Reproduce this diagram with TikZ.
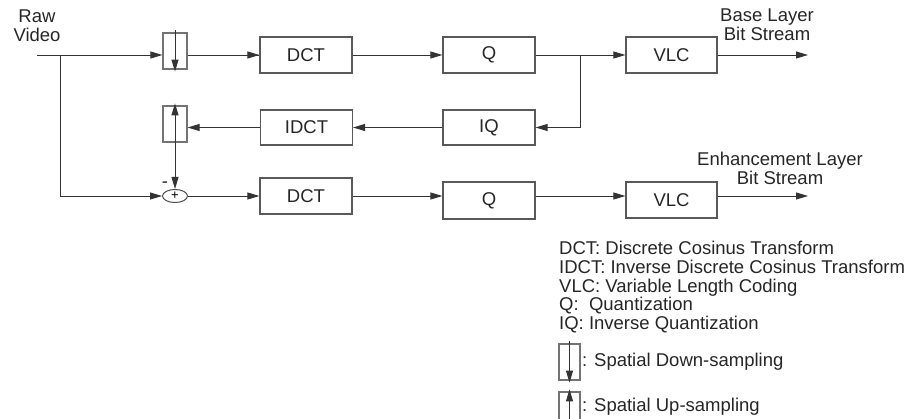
\documentclass[tikz,border=0pt]{standalone}
\usepackage{fontspec}
\setmainfont{Liberation Sans}
\usetikzlibrary{arrows.meta,shapes.geometric}
\begin{document}
\begin{tikzpicture}[x=1pt,y=-1pt,
  font=\fontsize{18.5}{18.8}\selectfont,
  box/.style={draw=black!65,line width=1.2pt,minimum width=92pt,minimum height=36pt,inner sep=0pt,text=black!85},
  sampbox/.style={draw=black!55,line width=1.2pt,minimum width=24pt,minimum height=36pt,inner sep=0pt},
  tip/.style={-{Triangle[length=12pt,width=7pt]}},
  wire/.style={draw=black!80,line width=0.9pt},
  conn/.style={wire,tip},
  lbl/.style={align=center,text=black!85,inner sep=0pt},
  leg/.style={anchor=base west,text=black!85,inner sep=0pt}]
\useasboundingbox (0,0) rectangle (922,419);

% first row
\node[sampbox] (ds) at (175,51) {};
\node[box] (dct1) at (306,55) {DCT};
\node[box] (q1) at (489,55) {Q};
\node[box,minimum width=91pt] (vlc1) at (671.5,55) {VLC};
% second row
\node[sampbox] (us) at (175,124) {};
\node[box,minimum height=35pt] (idct) at (306.5,127.5) {IDCT};
\node[box,minimum height=35pt] (iq) at (489,127.5) {IQ};
% third row
\node[ellipse,draw=black!70,line width=1pt,minimum width=25pt,minimum height=13pt,inner sep=0pt] (add) at (175,196) {};
\node[inner sep=0pt,font=\fontsize{13}{13}\selectfont] (plus) at (add.center) {+};
\node[box] (dct2) at (306,196) {DCT};
\node[box,minimum height=37pt] (q2) at (489,200.5) {Q};
\node[box,minimum width=91pt] (vlc2) at (671.5,200) {VLC};

% labels
\node[lbl] (raw) at (37,26) {Raw\\Video};
\node[lbl] (bl) at (767,25) {Base Layer\\Bit Stream};
\node[lbl] (el) at (780,168.5) {Enhancement Layer\\Bit Stream};
\node[inner sep=0pt,text=black!85] (minus) at (165,185) {-};

% coordinates
\coordinate (in) at (37,55);
\coordinate (br1) at (60,55);
\coordinate (br2) at (580,55);
\coordinate (out1) at (808,55);
\coordinate (out2) at (808,196);

% connectors first row
\draw[conn] (in) -- (in -| ds.west);
\draw[wire] (br1 -| ds.east) -- (br1 -| dct1.west);
\draw[conn] (br1 -| ds.east) -- (dct1.west);
\draw[conn] (dct1.east) -- (q1.west);
\draw[conn] (q1.east) -- (vlc1.west);
\draw[conn] (vlc1.east) -- (out1);
% inside downsampler
\draw[wire,tip] ([yshift=2pt]ds.north) -- ([yshift=-2pt]ds.south);
% feedback
\draw[conn] (br2) |- (iq.east);
\draw[conn] (iq.west) -- (idct.east);
\draw[conn] (idct.west) -- (idct.west -| us.east);
% upsampler and subtraction
\draw[wire,{Triangle[length=12pt,width=7pt]}-{Triangle[length=12pt,width=7pt]}] ([yshift=2pt]us.north) -- (add.north);
% branch to adder
\draw[conn] (br1) |- (add.west);
\draw[conn] (add.east) -- (dct2.west);
\draw[conn] (dct2.east) -- (dct2.east -| q2.west);
\draw[conn] (dct2.east -| q2.east) -- (dct2.east -| vlc2.west);
\draw[conn] (dct2.east -| vlc2.east) -- (out2);

% legend
\node[leg] (l1) at (559,254.5) {DCT: Discrete Cosinus Transform};
\node[leg] (l2) at (559,273.5) {IDCT: Inverse Discrete Cosinus Transform};
\node[leg] (l3) at (559,292.5) {VLC: Variable Length Coding};
\node[leg] (l4) at (559,311) {Q:\ \ Quantization};
\node[leg] (l5) at (559,329.5) {IQ: Inverse Quantization};
\node[sampbox,minimum width=21pt] (dsl) at (569.5,362) {};
\draw[wire,tip] ([yshift=2pt]dsl.north) -- ([yshift=-2pt]dsl.south);
\node[leg] (l6) at (582,366.5) {: Spatial Down-sampling};
\node[sampbox,minimum width=21pt] (usl) at (569.5,410) {};
\draw[wire,tip] ([yshift=-2pt]usl.south) -- ([yshift=2pt]usl.north);
\node[leg] (l7) at (582,411.5) {: Spatial Up-sampling};
\end{tikzpicture}
\end{document}
